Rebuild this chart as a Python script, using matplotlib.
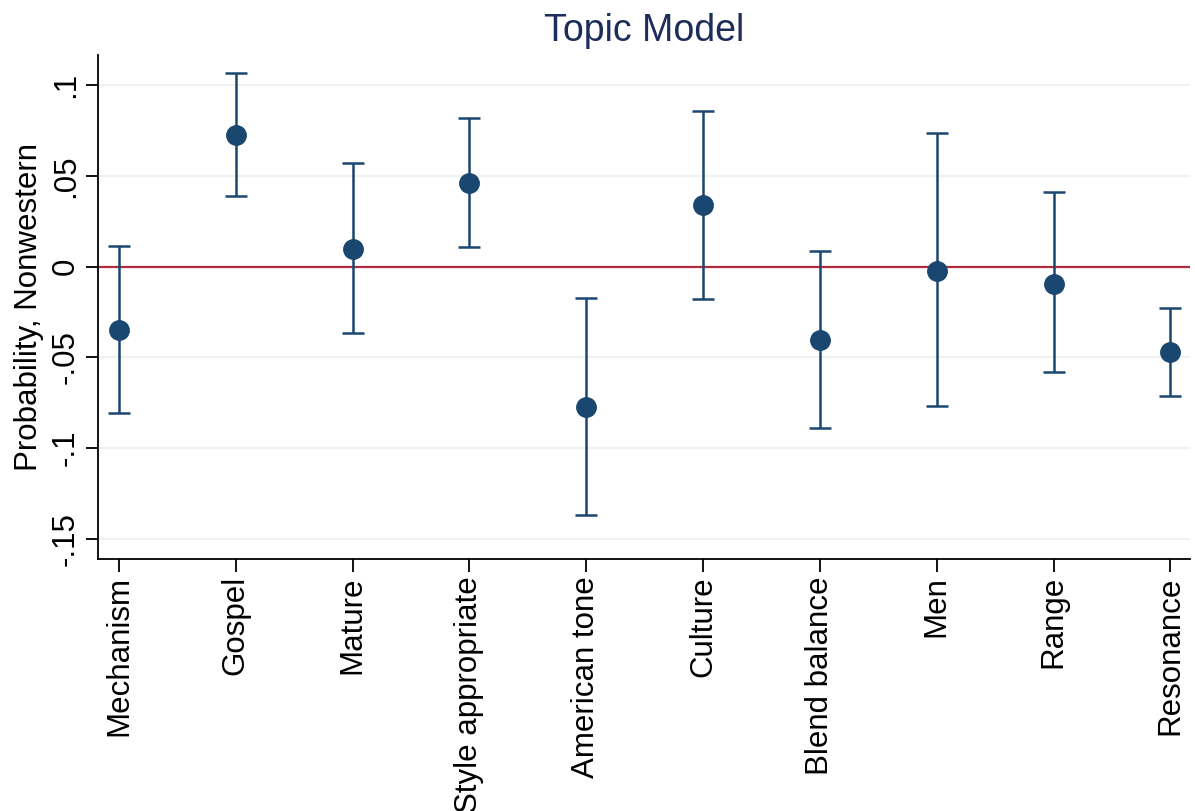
import matplotlib
matplotlib.use("Agg")
import matplotlib.pyplot as plt

topics = ["Mechanism", "Gospel", "Mature", "Style appropriate", "American tone",
          "Culture", "Blend balance", "Men", "Range", "Resonance"]
estimate = [-0.0348, 0.0724, 0.0099, 0.0459, -0.0773, 0.0337, -0.0403, -0.0022, -0.0094, -0.0470]
upper = [0.0116, 0.1066, 0.0569, 0.0818, -0.0171, 0.0856, 0.0088, 0.0735, 0.0409, -0.0227]
lower = [-0.0807, 0.0387, -0.0365, 0.0110, -0.1370, -0.0177, -0.0890, -0.0768, -0.0580, -0.0713]
yticks = [-0.15, -0.1, -0.05, 0, 0.05, 0.1]
ytick_labels = ["-.15", "-.1", "-.05", "0", ".05", ".1"]

navy = "#1a476f"
plt.rcParams["font.family"] = ["Liberation Sans", "DejaVu Sans"]

fig = plt.figure(figsize=(11.95, 8.11), dpi=100)
ax = fig.add_axes([0.082, 0.311, 0.914, 0.621])

x = list(range(len(topics)))
err_lo = [e - l for e, l in zip(estimate, lower)]
err_hi = [u - e for e, u in zip(estimate, upper)]

# light gridlines, red reference line at zero
for t in yticks:
    if t != 0:
        ax.axhline(t, color="#edf3f4", linewidth=1.6, zorder=0)
ax.axhline(0, color="#b22a3f", linewidth=1.6, zorder=1)

ax.errorbar(x, estimate, yerr=[err_lo, err_hi], fmt="o", color=navy,
            ecolor=navy, elinewidth=1.8, capsize=8, capthick=1.8,
            markersize=14, zorder=3)

ax.set_xlim(-0.18, 9.17)
ax.set_ylim(-0.161, 0.1165)
ax.set_yticks(yticks)
ax.set_yticklabels(ytick_labels, rotation=90, va="center", fontsize=22.5)
ax.set_xticks(x)
ax.set_xticklabels(topics, rotation=90, fontsize=22.5)
ax.tick_params(length=9, width=1.3, color="black")
ax.set_ylabel("Probability, Nonwestern", fontsize=22.5, labelpad=5)
ax.set_title("Topic Model", fontsize=27, color="#1c2d5a", pad=10)

ax.spines["top"].set_visible(False)
ax.spines["right"].set_visible(False)
ax.spines["left"].set_linewidth(1.3)
ax.spines["bottom"].set_linewidth(1.3)

fig.savefig("out.png", dpi=100, facecolor="white")
